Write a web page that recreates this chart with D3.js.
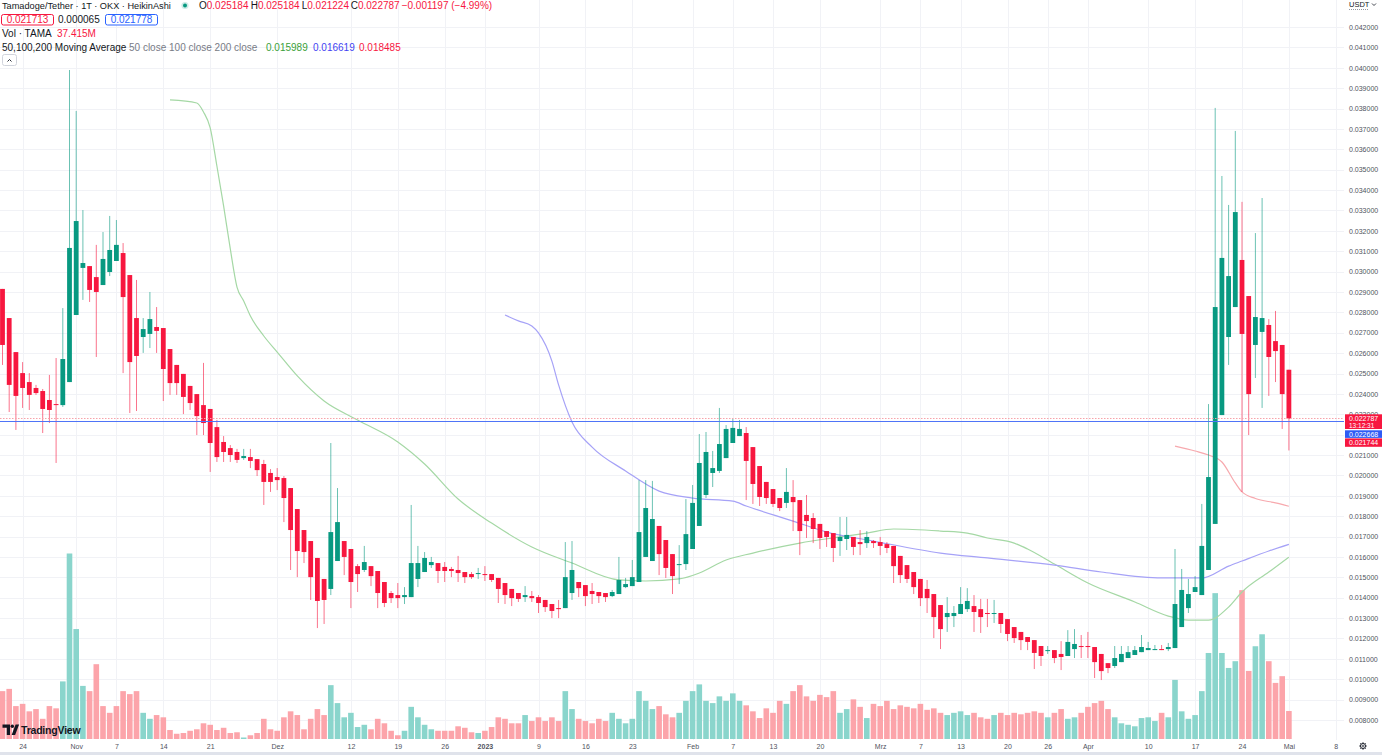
<!DOCTYPE html>
<html>
<head>
<meta charset="utf-8">
<script src="https://cdn.jsdelivr.net/npm/d3@7"></script>
<style>
  html, body { margin: 0; padding: 0; background: #fff; overflow: hidden; }
  svg { display: block; font-family: "Liberation Sans", Arial, sans-serif; }
  text { white-space: pre; }
</style>
</head>
<body>
<svg id="chart" width="1382" height="755"></svg>
<script>
// daily Heikin Ashi candles from 21 Oct 2022, prices in 10^-3 USDT
const startDay = Date.UTC(2022, 9, 21);
const dayMs = 864e5;

const openK = [
  29.15,27.72,26.05,25.02,24.58,24.29,24.14,23.70,23.50,23.45,
  24.58,27.87,30.18,30.27,29.73,29.34,29.98,30.52,30.91,29.83,
  27.72,26.79,26.94,27.28,27.23,26.20,25.42,24.98,24.39,23.99,
  23.45,23.26,22.37,21.64,21.34,21.15,20.85,20.90,20.80,20.56,
  20.12,19.92,19.87,19.38,18.35,17.32,16.78,15.95,14.92,14.43,
  15.80,16.78,16.39,15.55,15.36,15.55,15.31,14.77,14.23,14.13,
  14.03,14.03,14.92,15.26,15.60,15.70,15.51,15.41,15.36,15.26,
  15.16,15.16,15.16,15.16,14.97,14.72,14.43,14.23,14.03,14.08,
  14.03,13.89,13.69,13.49,13.49,14.23,14.77,14.62,14.33,14.28,
  14.23,14.08,14.18,14.52,14.57,14.77,16.00,15.80,17.52,16.83,
  16.14,15.60,15.65,16.39,17.52,19.04,20.12,20.22,20.85,21.59,
  21.93,22.08,21.39,20.46,19.68,19.33,18.89,18.65,18.94,18.79,
  18.06,17.91,17.62,17.27,17.17,16.78,16.88,16.98,16.73,16.68,
  16.78,16.73,16.63,16.54,16.05,15.60,15.26,14.92,14.43,14.18,
  13.64,13.05,13.10,13.20,13.44,13.59,13.44,13.25,13.20,13.25,
  12.95,12.56,12.32,12.07,11.92,11.63,11.38,11.43,11.24,11.14,
  11.48,11.63,11.63,11.58,11.24,10.79,10.65,10.84,11.04,11.19,
  11.33,11.43,11.43,11.48,11.48,11.53,12.56,13.49,14.28,14.13,
  15.36,17.62,22.96,26.79,28.26,30.57,28.80,26.40,27.04,27.38,
  26.59,26.40,25.184
];
const highK = [
  29.15,27.72,26.05,25.56,25.02,24.44,24.24,24.93,25.76,28.21,
  39.89,37.88,33.02,30.27,31.31,31.94,32.73,32.53,31.40,29.83,
  29.59,27.72,29.00,28.26,27.23,26.20,25.42,24.98,24.39,23.99,
  25.52,23.26,22.72,21.93,21.49,21.30,21.30,21.30,20.80,20.76,
  20.31,20.36,19.97,19.38,18.35,17.32,16.78,15.95,14.92,21.59,
  19.38,16.78,16.39,15.65,16.54,15.55,15.31,14.77,14.33,14.72,
  14.52,18.55,16.54,16.24,16.00,15.70,15.75,15.51,16.05,15.26,
  15.26,15.46,15.55,15.16,14.97,14.72,14.43,14.23,14.57,14.33,
  14.13,13.89,13.69,13.89,16.73,16.78,14.77,14.62,14.72,14.28,
  14.23,14.38,16.00,14.97,15.85,19.77,19.77,19.73,17.52,16.83,
  16.14,16.58,18.84,19.53,22.03,22.13,21.20,23.31,22.47,22.77,
  22.72,22.37,21.39,20.46,19.68,19.33,18.89,20.36,19.77,18.79,
  19.04,18.15,17.62,17.27,17.17,17.96,17.96,16.98,17.32,17.27,
  16.83,16.98,16.73,16.54,16.05,15.60,15.26,14.92,14.87,14.18,
  13.64,14.03,13.59,14.52,14.47,14.13,13.94,13.94,13.89,13.25,
  12.95,12.56,12.32,12.07,11.92,11.63,11.63,11.43,11.87,12.41,
  12.46,12.17,12.32,11.58,11.24,10.79,11.63,11.63,11.63,11.63,
  12.17,11.83,11.68,11.68,11.78,16.39,15.41,14.92,15.06,18.60,
  23.50,38.03,34.69,33.27,36.90,33.42,28.80,31.89,33.61,27.67,
  28.07,26.40,25.184
];
const lowK = [
  25.42,23.11,22.23,23.31,23.21,23.95,22.08,22.57,20.61,23.36,
  24.58,27.87,28.61,28.51,25.81,29.34,29.78,30.52,25.02,23.06,
  23.16,26.01,26.25,26.01,23.65,23.95,23.95,23.01,23.21,21.98,
  21.98,20.17,20.66,20.66,20.66,20.61,20.76,20.36,19.97,18.55,
  19.19,19.28,17.71,15.36,15.01,15.70,13.89,12.51,12.71,14.13,
  15.80,15.11,13.49,14.28,15.26,14.57,13.49,13.54,13.74,13.49,
  13.69,14.03,14.52,15.26,15.46,14.72,14.77,15.01,14.77,14.72,
  14.92,14.92,14.82,14.77,13.74,13.69,13.59,13.79,13.79,13.79,
  13.25,13.30,13.00,13.00,13.49,13.89,14.03,13.59,13.69,13.74,
  13.79,14.03,14.18,14.47,14.57,14.77,16.00,15.80,15.11,14.97,
  14.18,14.67,15.36,16.39,17.52,18.89,19.43,20.12,20.85,21.59,
  21.93,18.79,18.60,18.50,18.60,18.45,18.25,18.40,17.27,16.09,
  16.93,16.68,16.39,16.49,15.75,16.05,16.34,16.09,16.09,16.44,
  16.44,16.09,16.19,14.72,14.72,14.72,14.18,13.59,13.25,12.02,
  11.48,12.32,12.56,13.20,13.30,12.32,12.27,12.56,12.76,12.27,
  11.87,11.78,11.43,11.43,10.50,10.65,11.24,10.79,10.45,11.14,
  11.04,11.04,11.04,10.06,9.96,10.30,10.55,10.84,11.04,11.19,
  11.33,11.43,11.43,11.43,11.38,11.53,12.56,13.25,14.28,14.13,
  15.36,17.62,22.96,25.42,28.26,19.19,21.98,24.78,23.31,23.90,
  24.58,22.28,21.224
];
const closeK = [
  26.40,24.44,23.90,24.29,23.95,24.04,23.26,23.21,23.45,25.71,
  31.16,32.48,30.42,29.10,29.00,30.62,31.06,31.31,28.75,25.56,
  25.86,27.18,27.67,27.09,25.22,24.53,24.53,23.85,23.55,22.91,
  22.57,21.59,20.90,21.15,21.00,20.76,20.95,20.71,20.26,19.68,
  19.68,19.77,18.89,17.32,16.29,16.24,15.01,13.84,13.89,17.22,
  17.71,16.00,14.77,15.16,15.75,15.06,14.23,13.74,13.98,13.98,
  14.13,15.70,15.70,15.95,15.75,15.31,15.31,15.31,15.21,15.01,
  15.01,15.21,15.11,14.87,14.43,14.13,13.98,13.94,14.13,13.98,
  13.74,13.54,13.35,13.44,15.01,15.36,14.47,14.08,14.18,14.08,
  14.03,14.28,14.87,14.67,15.01,17.22,18.40,17.86,16.14,15.46,
  15.06,15.65,17.12,18.65,20.61,21.15,20.36,21.54,22.28,22.33,
  22.28,20.71,19.58,18.94,18.89,18.60,18.40,19.19,18.69,17.27,
  17.76,17.37,16.93,16.98,16.44,16.98,17.08,16.49,16.63,16.98,
  16.68,16.54,16.44,15.55,15.11,14.92,14.52,13.98,13.98,13.05,
  12.46,13.25,13.25,13.69,13.84,13.30,13.05,13.20,13.25,12.71,
  12.22,12.02,11.92,11.83,11.29,11.14,11.43,11.04,11.09,11.83,
  11.73,11.58,11.58,10.84,10.40,10.55,11.04,11.24,11.33,11.43,
  11.58,11.53,11.48,11.43,11.58,13.69,14.38,14.18,14.52,16.54,
  19.92,28.26,30.67,29.78,32.92,26.94,23.99,27.77,27.72,25.81,
  26.10,23.99,22.787
];
// volume in millions TAMA
const volumeM = [
  64,67,44,47,37,40,27,44,41,77,
  248,147,71,64,100,44,35,44,64,60,
  64,35,27,32,29,12,7,8,11,13,
  21,19,12,15,8,9,2,5,8,27,
  13,11,29,37,32,13,27,40,32,72,
  48,29,35,16,19,13,27,21,11,5,
  11,43,29,19,13,11,11,11,17,15,
  9,8,11,16,29,27,21,21,32,24,
  29,24,29,24,64,40,27,24,21,27,
  24,35,27,21,27,64,51,40,44,33,
  29,35,51,64,73,51,48,57,51,61,
  51,45,37,28,41,35,51,47,64,72,
  57,51,59,56,64,35,40,53,43,28,
  47,44,51,40,45,43,41,47,39,41,
  35,32,35,37,32,35,29,27,32,35,
  32,35,33,35,37,35,29,35,40,27,
  29,35,43,48,51,40,29,21,19,17,
  28,29,24,35,29,79,37,27,32,64,
  115,195,115,95,104,199,91,124,140,104,
  75,84,37.415
];
// u = rising bar, d = falling bar
const volumeDir = [
  "ddddddddd", "uuuu", "dddddddd", "uu", "ddddddddddddd", "u", "dddddddddddd",
  "uuuuuu", "ddddd", "uuuuu", "dddddd", "u", "dddddd", "u", "ddddd", "uu", "ddddd",
  "uuuuuuu", "ddd", "uuuuuuuuuu", "dddddd", "u", "ddddddd", "uu", "dd", "u",
  "ddddddddddd", "uuuu", "ddd", "u", "ddddddd", "u", "dd", "uu", "ddddd", "uuuuuuu",
  "d", "uuuuuuuuuuu", "dd", "uu", "dddd"
].join("");

// moving averages: [day index, value in 10^-3 USDT]
const ma50 = [[25,38.42],[29,38.27],[30,37.83],[31,37.05],[32,35.18],[33,33.22],[34,31.11],[35,29.24],
  [36,28.56],[37,27.82],[39,26.84],[41,26.05],[44,24.88],[48,23.65],[53,22.72],[59,21.64],[63,20.56],
  [68,18.84],[73,17.66],[79,16.49],[85,15.70],[92,14.87],[96,14.82],[101,14.92],[104,15.21],[108,15.85],
  [112,16.19],[119,16.68],[125,16.98],[129,17.17],[133,17.37],[140,17.27],[144,17.17],[147,16.93],
  [151,16.68],[153,16.39],[157,15.65],[162,14.72],[169,13.79],[174,13.10],[177,12.90],[180,12.90],
  [183,13.54],[185,14.28],[189,15.26],[192,15.989]];
const ma100 = [[75,27.87],[77,27.58],[79,27.33],[80,26.99],[82,25.61],[83,24.44],[85,22.62],[88,21.39],
  [93,20.22],[98,19.23],[103,18.89],[109,18.74],[111,18.50],[118,17.76],[123,17.22],[130,16.78],
  [140,16.19],[147,15.95],[157,15.60],[164,15.26],[173,14.97],[179,14.97],[183,15.55],[185,15.80],
  [189,16.29],[192,16.619]];
const ma200 = [[175,21.44],[178,21.20],[180,21.00],[182,20.66],[184,19.63],[185,19.19],[187,18.87],
  [190,18.65],[192,18.485]];

const tickDays = ["2022-10-24","2022-11-01","2022-11-07","2022-11-14","2022-11-21","2022-12-01",
  "2022-12-12","2022-12-19","2022-12-26","2023-01-01","2023-01-09","2023-01-16","2023-01-23",
  "2023-02-01","2023-02-07","2023-02-13","2023-02-20","2023-03-01","2023-03-07","2023-03-13",
  "2023-03-20","2023-03-26","2023-04-01","2023-04-10","2023-04-17","2023-04-24","2023-05-01","2023-05-08"];
const tickLabels = ["24","Nov","7","14","21","Dez","12","19","26","2023","9","16","23",
  "Feb","7","13","20","Mrz","7","13","20","26","Apr","10","17","24","Mai","8"];

const upColor = "#089981", downColor = "#f7173f";
const plotRight = 1344;

const candles = openK.map((o, i) => ({
  date: new Date(startDay + i * dayMs),
  open: o / 1000, high: highK[i] / 1000, low: lowK[i] / 1000, close: closeK[i] / 1000,
  vol: volumeM[i], volUp: volumeDir[i] === "u"
}));

const x = d3.scaleUtc()
  .domain([new Date(startDay), new Date(Date.UTC(2023, 4, 8))])
  .range([2.5, 1335.8]);
const y = d3.scaleLinear().domain([0.008, 0.042]).range([720, 27]);
const yVol = d3.scaleLinear().domain([0, 250]).range([739, 552]);

const svg = d3.select("#chart");

// grid
const priceTicks = d3.range(8, 43).map(v => v / 1000);
const tickDates = tickDays.map(s => new Date(s + "T00:00:00Z"));
const grid = svg.append("g");
grid.selectAll("line.h").data(priceTicks).join("line")
  .attr("x1", 0).attr("x2", plotRight)
  .attr("y1", d => Math.round(y(d)) + 0.5).attr("y2", d => Math.round(y(d)) + 0.5)
  .attr("stroke", "#f1f2f6");
grid.selectAll("line.v").data(tickDates).join("line")
  .attr("x1", d => Math.round(x(d)) + 0.5).attr("x2", d => Math.round(x(d)) + 0.5)
  .attr("y1", 0).attr("y2", 740)
  .attr("stroke", "#f1f2f6");

// volume
svg.append("g").selectAll("rect").data(candles).join("rect")
  .attr("x", d => x(d.date) - 2.8)
  .attr("width", 5.6)
  .attr("y", d => yVol(d.vol))
  .attr("height", d => yVol(0) - yVol(d.vol))
  .attr("fill", d => d.volUp ? "#8ad5cc" : "#fca4aa");

// moving averages
const maLine = d3.line()
  .x(d => x(new Date(startDay + d[0] * dayMs)))
  .y(d => y(d[1] / 1000))
  .curve(d3.curveMonotoneX);
[[ma50, "#a5d8a5"], [ma100, "#a6a2f7"], [ma200, "#f7a9ae"]].forEach(([pts, col]) => {
  svg.append("path").datum(pts)
    .attr("d", maLine)
    .attr("fill", "none")
    .attr("stroke", col)
    .attr("stroke-width", 1.2);
});

// candles
const cg = svg.append("g");
cg.selectAll("line").data(candles).join("line")
  .attr("x1", d => x(d.date)).attr("x2", d => x(d.date))
  .attr("y1", d => y(d.high)).attr("y2", d => y(d.low))
  .attr("stroke", d => d.close >= d.open ? upColor : downColor)
  .attr("stroke-opacity", 0.6)
  .attr("stroke-width", 1);
cg.selectAll("rect").data(candles).join("rect")
  .attr("x", d => x(d.date) - 2.4)
  .attr("width", 4.8)
  .attr("y", d => y(Math.max(d.open, d.close)))
  .attr("height", d => Math.max(1, Math.abs(y(d.open) - y(d.close))))
  .attr("fill", d => d.close >= d.open ? upColor : downColor);

// price lines
svg.append("line")
  .attr("x1", 0).attr("x2", plotRight)
  .attr("y1", 418.5).attr("y2", 418.5)
  .attr("stroke", "#f7a3ab").attr("stroke-dasharray", "1.5,1.5");
svg.append("line")
  .attr("x1", 0).attr("x2", plotRight)
  .attr("y1", Math.round(y(0.022668)) + 0.5).attr("y2", Math.round(y(0.022668)) + 0.5)
  .attr("stroke", "#4f74f7").attr("stroke-width", 1.2);

// price axis (0.022000 sits under the price tags)
const yAxis = svg.append("g")
  .attr("transform", `translate(${plotRight + 5},0)`)
  .call(d3.axisRight(y).tickValues(priceTicks.filter(v => Math.abs(v - 0.022) > 1e-9))
    .tickSize(0).tickPadding(0).tickFormat(d3.format(".6f")));
yAxis.select(".domain").remove();
yAxis.selectAll("text")
  .attr("font-size", 7).attr("fill", "#50535e")
  .attr("font-family", "'Liberation Sans', Arial, sans-serif");

// time axis
const xAxis = svg.append("g")
  .attr("transform", "translate(0,744.5)")
  .call(d3.axisBottom(x).tickValues(tickDates).tickSize(0).tickPadding(0)
    .tickFormat((d, i) => tickLabels[i]));
xAxis.select(".domain").remove();
xAxis.selectAll("text")
  .attr("font-size", 7).attr("fill", "#50535e")
  .attr("font-family", "'Liberation Sans', Arial, sans-serif")
  .attr("font-weight", (d, i) => tickLabels[i] === "2023" ? "bold" : null);

svg.append("rect").attr("x", 0).attr("y", 752).attr("width", 1382).attr("height", 3).attr("fill", "#e0e3eb");

// axis price labels
const tagGroup = svg.append("g").attr("font-size", 7).attr("fill", "#fff");
tagGroup.append("rect").attr("x", 1345).attr("y", 414.3).attr("width", 37).attr("height", 14.7).attr("fill", downColor);
tagGroup.append("text").attr("x", 1349).attr("y", 420.8).text("0.022787");
tagGroup.append("text").attr("x", 1349).attr("y", 427.6).attr("font-size", 6.5).text("13:12:31");
tagGroup.append("rect").attr("x", 1345).attr("y", 430.3).attr("width", 37).attr("height", 7.6).attr("fill", "#2f5cf5");
tagGroup.append("text").attr("x", 1349).attr("y", 436.6).text("0.022668");
tagGroup.append("rect").attr("x", 1345).attr("y", 438.4).attr("width", 37).attr("height", 8.4).attr("fill", downColor);
tagGroup.append("text").attr("x", 1349).attr("y", 445.2).text("0.021744");

// currency label
svg.append("text").attr("x", 1349).attr("y", 7).attr("font-size", 7.5).attr("fill", "#131722").text("USDT");
svg.append("line").attr("x1", 1349).attr("x2", 1369).attr("y1", 9.5).attr("y2", 9.5)
  .attr("stroke", "#9598a1").attr("stroke-dasharray", "1,1");
svg.append("path").attr("d", "M1372,3.5 l2,2 l2,-2").attr("fill", "none").attr("stroke", "#131722").attr("stroke-width", 0.8);

// gear
const gear = svg.append("g").attr("transform", "translate(1363,746)").attr("stroke", "#131722").attr("fill", "none");
gear.append("circle").attr("r", 2.6).attr("stroke-width", 0.9);
gear.append("circle").attr("r", 1).attr("stroke-width", 0.7);
d3.range(8).forEach(k => {
  const a = k * Math.PI / 4;
  gear.append("line").attr("x1", 2.6 * Math.cos(a)).attr("y1", 2.6 * Math.sin(a))
    .attr("x2", 3.7 * Math.cos(a)).attr("y2", 3.7 * Math.sin(a)).attr("stroke-width", 1);
});

// legend
const dark = "#131722", grey = "#787b86";
const lg = svg.append("g").attr("font-size", 10).attr("fill", dark);
lg.append("text").attr("x", 2).attr("y", 9).attr("font-size", 9.2).text("Tamadoge/Tether · 1T · OKX · HeikinAshi");
lg.append("circle").attr("cx", 185).attr("cy", 5.5).attr("r", 3.6).attr("fill", "#089981").attr("fill-opacity", 0.2);
lg.append("circle").attr("cx", 185).attr("cy", 5.5).attr("r", 2).attr("fill", "#089981");
const ohlc = [["O", "0.025184", 199], ["H", "0.025184", 250.7], ["L", "0.021224", 301.7], ["C", "0.022787", 350.7]];
ohlc.forEach(([k, v, px]) => {
  const t = lg.append("text").attr("x", px).attr("y", 9);
  t.append("tspan").text(k);
  t.append("tspan").attr("fill", downColor).text(v);
});
lg.append("text").attr("x", 401.7).attr("y", 9).attr("fill", downColor).text("−0.001197 (−4.99%)");

lg.append("rect").attr("x", 1.5).attr("y", 14.5).attr("width", 52).attr("height", 10.5).attr("rx", 2)
  .attr("fill", "#fff").attr("stroke", downColor);
lg.append("text").attr("x", 27.5).attr("y", 23).attr("text-anchor", "middle").attr("fill", downColor).text("0.021713");
lg.append("text").attr("x", 58).attr("y", 23).text("0.000065");
lg.append("rect").attr("x", 105.5).attr("y", 14.5).attr("width", 52).attr("height", 10.5).attr("rx", 2)
  .attr("fill", "#fff").attr("stroke", "#2962ff");
lg.append("text").attr("x", 131.5).attr("y", 23).attr("text-anchor", "middle").attr("fill", "#2962ff").text("0.021778");

lg.append("text").attr("x", 2).attr("y", 37).text("Vol · TAMA");
lg.append("text").attr("x", 57).attr("y", 37).attr("fill", downColor).text("37.415M");

lg.append("text").attr("x", 2).attr("y", 50.5).text("50,100,200 Moving Average");
lg.append("text").attr("x", 129).attr("y", 50.5).attr("fill", grey).text("50 close 100 close 200 close");
lg.append("text").attr("x", 266).attr("y", 50.5).attr("fill", "#3a9f3a").text("0.015989");
lg.append("text").attr("x", 313).attr("y", 50.5).attr("fill", "#4343f2").text("0.016619");
lg.append("text").attr("x", 359).attr("y", 50.5).attr("fill", downColor).text("0.018485");

lg.append("rect").attr("x", 2.5).attr("y", 54.5).attr("width", 14).attr("height", 11).attr("rx", 2)
  .attr("fill", "#fff").attr("stroke", "#d1d4dc");
lg.append("path").attr("d", "M7.5,61.5 l2,-2 l2,2").attr("fill", "none").attr("stroke", dark).attr("stroke-width", 0.9);

// watermark logo
const logo = svg.append("g").attr("fill", dark);
logo.append("path").attr("d", "M2.5,724.5 h7.5 v10.5 h-3.2 v-7.3 h-4.3 z");
logo.append("circle").attr("cx", 12.3).attr("cy", 726.3).attr("r", 1.7);
logo.append("path").attr("d", "M11.6,735 l4,-10.5 h3.5 l-4,10.5 z");
logo.append("text").attr("x", 21).attr("y", 734).attr("font-size", 10.5).attr("font-weight", "bold")
  .attr("letter-spacing", -0.2).text("TradingView");
</script>
</body>
</html>
